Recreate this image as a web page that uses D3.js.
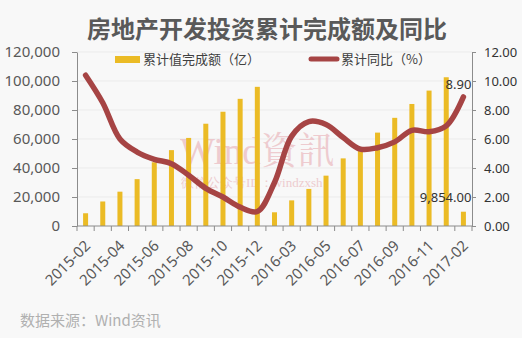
<!DOCTYPE html>
<html>
<head>
<meta charset="utf-8">
<script src="https://cdn.jsdelivr.net/npm/d3@7"></script>
<style>
  html, body { margin: 0; padding: 0; background: #f8f8f8; }
  svg { display: block; font-family: "Noto Sans", "Noto Sans CJK SC", sans-serif; }
</style>
</head>
<body>
<svg id="chart" width="522" height="338"></svg>
<script>
// Monthly cumulative figures (Jan–Feb reported together)
const months = [
  "2015-02","2015-03","2015-04","2015-05","2015-06","2015-07","2015-08","2015-09","2015-10","2015-11","2015-12",
  "2016-02","2016-03","2016-04","2016-05","2016-06","2016-07","2016-08","2016-09","2016-10","2016-11","2016-12",
  "2017-02"
];
// 累计值完成额 (亿元)
const investment = [
  8786, 16914, 23669, 32315, 43955, 52322, 60743, 70535, 78802, 87702, 95979,
  9454, 17677, 25574, 34716, 46631, 53800, 64407, 74598, 84153, 93387, 102581,
  9854
];
// 累计同比 (%)
const yoyGrowth = [
  10.4, 8.5, 6.0, 5.1, 4.6, 4.3, 3.5, 2.6, 2.0, 1.3, 1.0,
  3.0, 6.2, 7.2, 7.0, 6.1, 5.3, 5.4, 5.8, 6.6, 6.5, 6.9,
  8.9
];
const leftTicks = [0, 20000, 40000, 60000, 80000, 100000, 120000];
const rightTicks = [0, 2, 4, 6, 8, 10, 12];

const titleText = "房地产开发投资累计完成额及同比";
const barLegend = "累计值完成额（亿）";
const lineLegend = "累计同比（%）";
const sourceText = "数据来源：Wind资讯";

const svg = d3.select("#chart");
const plot = { left: 77, right: 472, top: 52, bottom: 226 };

const x = d3.scaleBand().domain(months).range([plot.left, plot.right]).padding(0);
const yL = d3.scaleLinear().domain([0, 120000]).range([plot.bottom, plot.top]);
const yR = d3.scaleLinear().domain([0, 12]).range([plot.bottom, plot.top]);

const axisColor = "#8c8c8c";
const barColor = "#ebbb25";
const lineColor = "#a64444";

// Title
svg.append("text")
  .attr("x", 267).attr("y", 38)
  .attr("text-anchor", "middle")
  .attr("font-family", "'Noto Sans CJK SC', sans-serif")
  .attr("font-weight", "bold")
  .attr("font-size", 24)
  .attr("fill", "#595959")
  .text(titleText);

// Horizontal gridlines
svg.append("g").selectAll("line")
  .data(leftTicks.slice(1))
  .join("line")
  .attr("x1", plot.left).attr("x2", plot.right)
  .attr("y1", d => yL(d)).attr("y2", d => yL(d))
  .attr("stroke", "#ebebeb").attr("stroke-width", 1);

// Watermark
svg.append("text")
  .attr("x", 180).attr("y", 164)
  .attr("font-family", "'Liberation Serif', 'Noto Serif CJK SC', serif")
  .attr("font-size", 37)
  .attr("fill", "#eab8be").attr("opacity", 0.7)
  .text("Wind資訊");
svg.append("text")
  .attr("x", 181).attr("y", 187)
  .attr("font-family", "'Liberation Serif', serif")
  .attr("font-size", 13)
  .attr("fill", "#eab8be").attr("opacity", 0.7)
  .text("微信公众号ID：windzxsh");

// Bars
const barW = 5;
svg.append("g").selectAll("rect")
  .data(months)
  .join("rect")
  .attr("x", (d) => x(d) + x.bandwidth() / 2 - barW / 2)
  .attr("width", barW)
  .attr("y", (d, i) => yL(investment[i]))
  .attr("height", (d, i) => plot.bottom - yL(investment[i]))
  .attr("fill", barColor);

// Growth line
const line = d3.line()
  .x((d, i) => x(months[i]) + x.bandwidth() / 2)
  .y(d => yR(d))
  .curve(d3.curveCatmullRom.alpha(0.5));
svg.append("path")
  .datum(yoyGrowth)
  .attr("d", line)
  .attr("fill", "none")
  .attr("stroke", lineColor)
  .attr("stroke-width", 5.5)
  .attr("stroke-linecap", "round")
  .attr("stroke-linejoin", "round");

// Left axis
const gL = svg.append("g")
  .attr("transform", `translate(${plot.left},0)`)
  .call(d3.axisLeft(yL).tickValues(leftTicks).tickFormat(d3.format(",")).tickSize(5).tickPadding(12).tickSizeOuter(0));
gL.select(".domain").attr("stroke", axisColor);
gL.selectAll(".tick line").attr("stroke", axisColor);
gL.selectAll(".tick text").attr("font-size", 15).attr("fill", "#595959").attr("font-family", "'Noto Sans', sans-serif");

// Right axis
const gR = svg.append("g")
  .attr("transform", `translate(${plot.right},0)`)
  .call(d3.axisRight(yR).tickValues(rightTicks).tickFormat(d3.format(".2f")).tickSize(4).tickPadding(8).tickSizeOuter(0));
gR.select(".domain").attr("stroke", axisColor);
gR.selectAll(".tick line").attr("stroke", axisColor);
gR.selectAll(".tick text").attr("font-size", 13).attr("fill", "#333").attr("font-family", "'Noto Sans', sans-serif");

// Bottom axis: baseline, boundary ticks, rotated labels on every other month
const gB = svg.append("g");
gB.append("line")
  .attr("x1", plot.left).attr("x2", plot.right)
  .attr("y1", plot.bottom).attr("y2", plot.bottom)
  .attr("stroke", axisColor);
gB.selectAll("line.tk")
  .data(d3.range(months.length + 1))
  .join("line")
  .attr("class", "tk")
  .attr("x1", i => plot.left + i * x.step())
  .attr("x2", i => plot.left + i * x.step())
  .attr("y1", plot.bottom).attr("y2", plot.bottom + 5)
  .attr("stroke", axisColor);
gB.selectAll("text")
  .data(months.filter((d, i) => i % 2 === 0))
  .join("text")
  .attr("transform", d => `translate(${x(d) + x.bandwidth() / 2 + 2},${plot.bottom + 17}) rotate(-45)`)
  .attr("text-anchor", "end")
  .attr("dy", "0.35em")
  .attr("font-size", 15)
  .attr("fill", "#595959")
  .text(d => d);

// Value labels on the last point
const last = months.length - 1;
const lastX = x(months[last]) + x.bandwidth() / 2;
svg.append("text")
  .attr("x", lastX + 8).attr("y", yR(yoyGrowth[last]) - 8)
  .attr("text-anchor", "end")
  .attr("font-size", 13).attr("fill", "#333")
  .text(yoyGrowth[last].toFixed(2));
svg.append("text")
  .attr("x", lastX + 8).attr("y", yL(investment[last]) - 10)
  .attr("text-anchor", "end")
  .attr("font-size", 13).attr("fill", "#333")
  .text(d3.format(",.2f")(investment[last]));

// Legend
const lg = svg.append("g");
lg.append("rect").attr("x", 115).attr("y", 56).attr("width", 25).attr("height", 7).attr("fill", barColor);
lg.append("text").attr("x", 143).attr("y", 64)
  .attr("font-family", "'Noto Sans CJK SC', sans-serif")
  .attr("font-size", 13).attr("fill", "#404040").text(barLegend);
lg.append("line").attr("x1", 311).attr("x2", 337).attr("y1", 59).attr("y2", 59)
  .attr("stroke", lineColor).attr("stroke-width", 5).attr("stroke-linecap", "round");
lg.append("text").attr("x", 341).attr("y", 64)
  .attr("font-family", "'Noto Sans CJK SC', sans-serif")
  .attr("font-size", 13).attr("fill", "#404040").text(lineLegend);

// Source note
svg.append("text")
  .attr("x", 20).attr("y", 326)
  .attr("font-family", "'Noto Sans CJK SC', sans-serif")
  .attr("font-size", 15).attr("fill", "#b0b0b0")
  .text(sourceText);
</script>
</body>
</html>
